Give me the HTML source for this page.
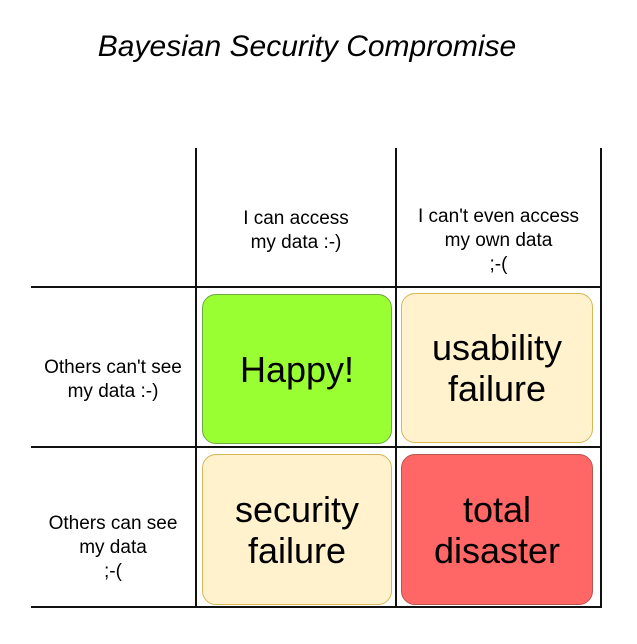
<!DOCTYPE html>
<html><head><style>
body{margin:0;width:637px;height:644px;background:#fff;position:relative;font-family:"Liberation Sans",Arial,Helvetica,sans-serif;overflow:hidden}
.a{position:absolute}
.t{position:absolute;text-align:center;color:#000;display:flex;align-items:center;justify-content:center}
.b{position:absolute;border-radius:14px;box-sizing:border-box;display:flex;align-items:center;justify-content:center;text-align:center;font-size:36px;line-height:41px;color:#000}
</style></head><body>
<div class="t" style="left:0;top:27px;width:614px;height:40px;font-size:30px;font-style:italic">Bayesian Security Compromise</div>
<div class="a" style="left:195px;top:148px;width:2px;height:460px;background:#111"></div>
<div class="a" style="left:395px;top:148px;width:2px;height:460px;background:#111"></div>
<div class="a" style="left:600px;top:148px;width:2px;height:460px;background:#111"></div>
<div class="a" style="left:31px;top:286px;width:571px;height:2px;background:#111"></div>
<div class="a" style="left:31px;top:446px;width:571px;height:2px;background:#111"></div>
<div class="a" style="left:31px;top:606px;width:571px;height:2px;background:#111"></div>
<div class="t" style="left:197px;top:191px;width:198px;height:80px;font-size:19px;line-height:24px">I can access<br>my data :-)</div>
<div class="t" style="left:397px;top:201px;width:203px;height:80px;font-size:19px;line-height:24px">I can't even access<br>my own data<br>;-(</div>
<div class="t" style="left:31px;top:340px;width:164px;height:80px;font-size:19px;line-height:24px">Others can't see<br>my data :-)</div>
<div class="t" style="left:31px;top:503px;width:164px;height:90px;font-size:19px;line-height:24px">Others can see<br>my data<br>;-(</div>
<div class="b" style="left:202px;top:294px;width:190px;height:150px;background:#99ff33;border:1px solid #6fa843">Happy!</div>
<div class="b" style="left:401px;top:293px;width:192px;height:150px;background:#fff2cc;border:1px solid #d6b656">usability<br>failure</div>
<div class="b" style="left:202px;top:454px;width:190px;height:151px;background:#fff2cc;border:1px solid #d6b656">security<br>failure</div>
<div class="b" style="left:401px;top:454px;width:192px;height:151px;background:#ff6666;border:1px solid #b85450">total<br>disaster</div>
</body></html>
